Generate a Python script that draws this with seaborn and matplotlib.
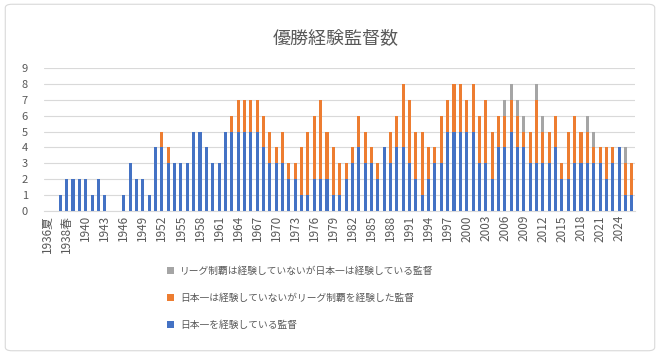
import matplotlib
matplotlib.use("Agg")
import matplotlib.pyplot as plt
from matplotlib.patches import Patch, FancyBboxPatch
import seaborn as sns
import pandas as pd

# ---- data ----
seasons = ["1936夏", "1937春", "1937秋", "1938春", "1938秋"] + [str(y) for y in range(1939, 2027)]

japan_series = [0, 0, 1, 2, 2, 2, 2, 1, 2, 1, 0, 0, 1, 3, 2, 2, 1, 4, 4, 3,
                3, 3, 3, 5, 5, 4, 3, 3, 5, 5, 5, 5, 5, 5, 4, 3, 3, 3, 2, 2,
                1, 1, 2, 2, 2, 1, 1, 2, 3, 4, 3, 3, 2, 4, 3, 4, 4, 3, 2, 1,
                2, 3, 3, 5, 5, 5, 5, 5, 3, 3, 2, 4, 4, 5, 4, 4, 3, 3, 3, 3,
                4, 2, 2, 3, 3, 3, 3, 3, 2, 3, 4, 1, 1]
league_only = [0, 0, 0, 0, 0, 0, 0, 0, 0, 0, 0, 0, 0, 0, 0, 0, 0, 0, 1, 1,
               0, 0, 0, 0, 0, 0, 0, 0, 0, 1, 2, 2, 2, 2, 2, 2, 1, 2, 1, 1,
               3, 4, 4, 5, 3, 3, 2, 1, 1, 2, 2, 1, 1, 0, 2, 2, 4, 4, 3, 4,
               2, 1, 3, 2, 3, 3, 2, 3, 3, 4, 3, 2, 2, 2, 2, 1, 2, 4, 2, 2,
               2, 1, 3, 3, 2, 2, 1, 1, 2, 1, 0, 2, 2]
japan_only = [0] * 72 + [1, 1, 1, 1, 0, 1, 1, 0, 0, 0, 0, 0, 0, 1, 1, 0, 0, 0, 0, 1, 0]

legend_labels = ["リーグ制覇は経験していないが日本一は経験している監督",
                 "日本一は経験していないがリーグ制覇を経験した監督",
                 "日本一を経験している監督"]
title = "優勝経験監督数"

# ---- style ----
sns.set_theme(style="white")
plt.rcParams["font.family"] = ["Noto Sans CJK JP", "DejaVu Sans"]
TXT = "#595959"
C_BLUE, C_ORANGE, C_GRAY = "#4472C4", "#ED7D31", "#A5A5A5"

df = pd.DataFrame({"season": seasons, "blue": japan_series,
                   "orange": league_only, "gray": japan_only})
df["lvl2"] = df["blue"] + df["orange"]
df["lvl3"] = df["lvl2"] + df["gray"]

fig = plt.figure(figsize=(6.6, 3.55), dpi=100)
ax = fig.add_axes([0.0673, 0.406, 0.8948, 0.402])

bw = 0.48
sns.barplot(data=df, x="season", y="lvl3", order=seasons, color=C_GRAY,
            width=bw, saturation=1, ax=ax, zorder=3)
sns.barplot(data=df, x="season", y="lvl2", order=seasons, color=C_ORANGE,
            width=bw, saturation=1, ax=ax, zorder=4)
sns.barplot(data=df, x="season", y="blue", order=seasons, color=C_BLUE,
            width=bw, saturation=1, ax=ax, zorder=5)
for p in ax.patches:
    p.set_linewidth(0)

ax.set_xlim(-0.5, len(seasons) - 0.5)
ax.set_ylim(0, 9)
ax.set_yticks(range(0, 10))
ax.yaxis.grid(True, color="#D9D9D9", linewidth=0.8, zorder=0)
ax.set_axisbelow(True)
ticks = list(range(0, len(seasons), 3))
ax.set_xticks(ticks)
ax.set_xticklabels([seasons[i] for i in ticks], rotation=90, fontsize=8.5, color=TXT)
ax.tick_params(axis="y", labelsize=8, labelcolor=TXT, length=0, pad=12)
ax.tick_params(axis="x", length=0, pad=3)
ax.set_xlabel("")
ax.set_ylabel("")
for s in ["top", "right", "left"]:
    ax.spines[s].set_visible(False)
ax.spines["bottom"].set_color("#D9D9D9")
ax.spines["bottom"].set_linewidth(0.8)
for lab in ax.get_yticklabels():
    lab.set_horizontalalignment("right")

fig.text(0.508, 0.893, title, ha="center", va="center", fontsize=13, color=TXT)

handles = [Patch(facecolor=C_GRAY, edgecolor="none"),
           Patch(facecolor=C_ORANGE, edgecolor="none"),
           Patch(facecolor=C_BLUE, edgecolor="none")]
leg = fig.legend(handles, legend_labels, loc="upper left",
                 bbox_to_anchor=(0.247, 0.262), frameon=False, fontsize=7,
                 handlelength=0.75, handleheight=0.75, handletextpad=0.6,
                 labelspacing=1.75, borderaxespad=0)
for t in leg.get_texts():
    t.set_color(TXT)

border = FancyBboxPatch((0.008, 0.012), 0.984, 0.976, transform=fig.transFigure,
                        boxstyle="round,pad=0,rounding_size=0.01",
                        facecolor="none", edgecolor="#D9D9D9", linewidth=0.8)
fig.patches.append(border)

fig.savefig("out.png", dpi=100)
